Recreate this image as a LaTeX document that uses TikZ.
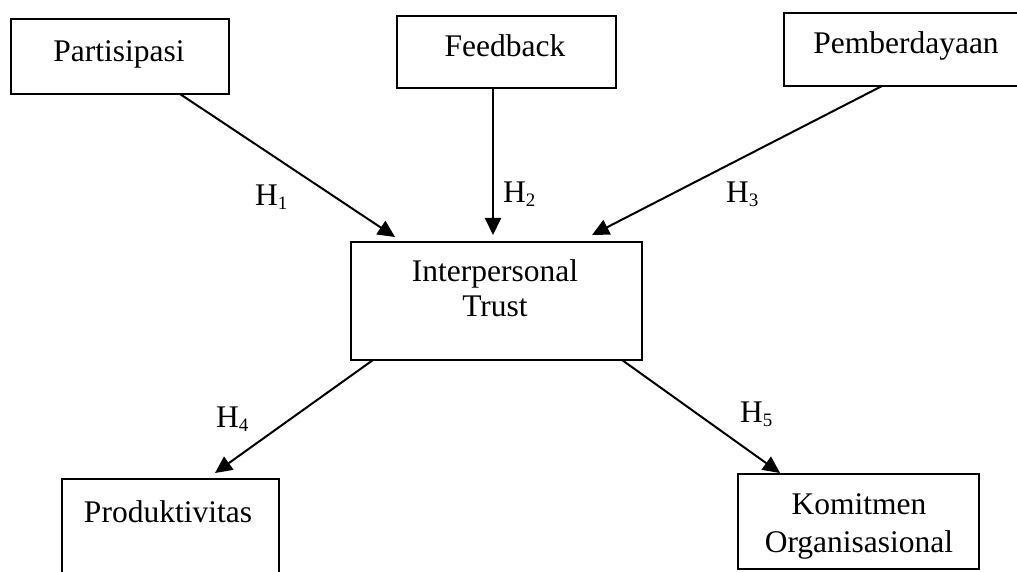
\documentclass[tikz,border=0pt]{standalone}
\usepackage{fontspec}
\setmainfont{Liberation Serif}
\usetikzlibrary{arrows.meta,calc}
\newcommand\hsb[1]{\raisebox{-4pt}{\fontsize{19}{19}\selectfont #1}}
\tikzset{
  box/.style={draw=black, line width=2pt, rectangle, inner sep=0pt, outer sep=0pt},
  txt/.style={font=\fontsize{31.5}{36}\selectfont, inner sep=0pt, align=center},
  hlab/.style={font=\fontsize{31.5}{36}\selectfont, inner sep=0pt, anchor=base west},
  conn/.style={line width=2pt, -{Triangle[length=17pt,width=16pt]}}
}
\begin{document}
\begin{tikzpicture}[x=1pt,y=1pt]
\useasboundingbox (0,0) rectangle (1017,571);
% boxes
\node[box, minimum width=218pt, minimum height=75pt] (p) at (120,514.5) {};
\node[box, minimum width=219pt, minimum height=72pt] (f) at (506.5,519) {};
\node[box, minimum width=246pt, minimum height=73pt] (pe) at (907,521.5) {};
\node[box, minimum width=291pt, minimum height=118pt] (it) at (496.5,270) {};
\node[box, minimum width=217pt, minimum height=111pt] (pr) at (170.5,36.5) {};
\node[box, minimum width=241pt, minimum height=95pt] (k) at (858.5,49.5) {};
% texts
\node[txt, anchor=base] (pt) at (119,509) {Partisipasi};
\node[txt, anchor=base] (ft) at (505,514) {Feedback};
\node[txt, anchor=base] (pet) at (906,517) {Pemberdayaan};
\node[txt, font=\fontsize{31.5}{35}\selectfont] (itt) at (495,283) {Interpersonal\\Trust};
\node[txt, anchor=base] (prt) at (168,49) {Produktivitas};
\node[txt, font=\fontsize{31.5}{38}\selectfont] (kt) at (859,45) {Komitmen\\Organisasional};
% connectors
\draw[conn] ($(p.south west)+(169,0)$) -- ($(it.north west)+(44,5)$);
\draw[conn] ($(f.south west)+(96,0)$) -- ($(it.north west)+(142,7)$);
\draw[conn] ($(pe.south west)+(98,0)$) -- ($(it.north west)+(241,7)$);
\draw[conn] ($(it.south west)+(22,0)$) -- ($(pr.north west)+(153,6)$);
\draw[conn] ($(it.south west)+(271,0)$) -- ($(k.north west)+(42,1)$);
% labels
\node[hlab] (h1) at (255,365) {H\hsb{1}};
\node[hlab] (h2) at (503,368) {H\hsb{2}};
\node[hlab] (h3) at (726,368) {H\hsb{3}};
\node[hlab] (h4) at (216,144) {H\hsb{4}};
\node[hlab] (h5) at (740,149) {H\hsb{5}};
\end{tikzpicture}
\end{document}
